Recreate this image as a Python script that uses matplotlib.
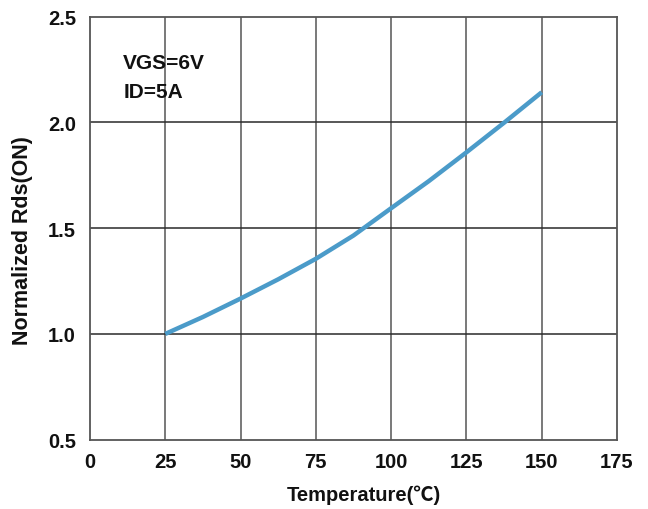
import matplotlib
matplotlib.use("Agg")
import matplotlib.pyplot as plt

plt.rcParams['font.family'] = ['Liberation Sans', 'Noto Sans CJK SC', 'DejaVu Sans']
plt.rcParams['font.weight'] = 'bold'

# Normalized on-resistance vs junction temperature
temperature = [25, 37.5, 50, 62.5, 75, 87.5, 100, 112.5, 125, 137.5, 150]
rds_norm = [1.0, 1.08, 1.167, 1.258, 1.355, 1.465, 1.594, 1.722, 1.858, 1.998, 2.142]

x_ticks = [0, 25, 50, 75, 100, 125, 150, 175]
y_ticks = [0.5, 1.0, 1.5, 2.0, 2.5]
condition_lines = ["VGS=6V", "ID=5A"]

fig = plt.figure(figsize=(6.48, 5.10), dpi=100)
ax = fig.add_axes([90 / 648, 1 - 440.7 / 510, (617 - 90) / 648, (440.7 - 17.5) / 510])

ax.set_xlim(0, 175)
ax.set_ylim(0.5, 2.5)
ax.set_xticks(x_ticks)
ax.set_yticks(y_ticks)
ax.set_xticklabels([str(t) for t in x_ticks])
ax.set_yticklabels([f"{t:.1f}" for t in y_ticks])

for t in x_ticks[1:-1]:
    ax.axvline(t, color='#6e6e6e', lw=1.3, zorder=1)
for t in y_ticks[1:-1]:
    ax.axhline(t, color='#2a2a2a', lw=1.1, zorder=1)

for s in ax.spines.values():
    s.set_color('#555555')
    s.set_linewidth(1.3)

ax.tick_params(axis='x', length=0, labelsize=14.5, pad=9, colors='#111111')
ax.tick_params(axis='y', length=0, labelsize=14.5, pad=10, colors='#111111')
for lbl in ax.get_xticklabels() + ax.get_yticklabels():
    lbl.set_fontweight('bold')

ax.plot(temperature, rds_norm, color='#4b9bc9', lw=3.2, solid_capstyle='butt', zorder=3)

ax.text(11, 2.257, condition_lines[0], fontsize=15, fontweight='bold', color='#111111')
ax.text(11, 2.12, condition_lines[1], fontsize=15, fontweight='bold', color='#111111')

ax.set_xlabel("Temperature(℃)", fontsize=14.5, fontweight='bold', color='#111111')
ax.set_ylabel("Normalized Rds(ON)", fontsize=15.5, fontweight='bold', color='#111111')
ax.xaxis.set_label_coords(0.519, -0.107)
ax.yaxis.set_label_coords(-0.108, 0.474)

fig.savefig("out.png", dpi=100)
